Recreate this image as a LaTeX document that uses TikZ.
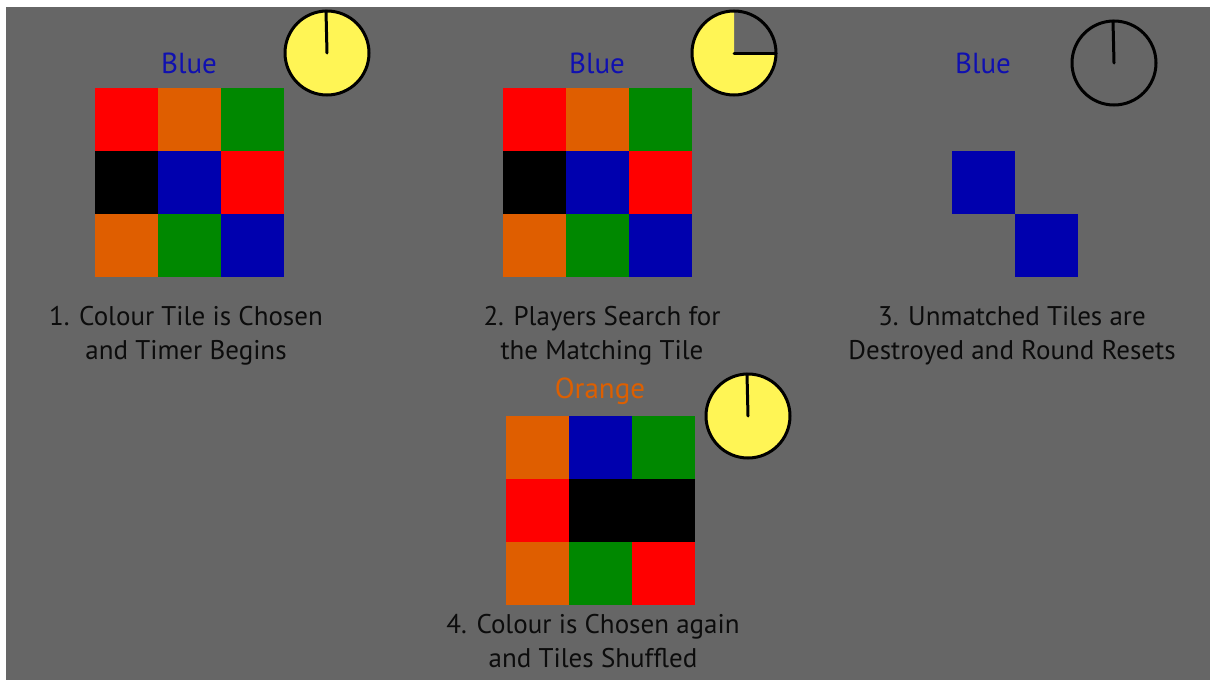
\documentclass[tikz,border=0pt]{standalone}
\usepackage{fontspec}
\setmainfont{PT Sans}
\definecolor{bg}{RGB}{102,102,102}
\definecolor{tred}{RGB}{255,0,0}
\definecolor{torange}{RGB}{223,94,0}
\definecolor{tgreen}{RGB}{0,136,0}
\definecolor{tblue}{RGB}{0,0,174}
\definecolor{clk}{RGB}{255,245,85}
\definecolor{captxt}{RGB}{12,12,12}
\definecolor{lblblue}{RGB}{16,16,176}
\definecolor{lblorange}{RGB}{221,95,0}
\begin{document}
\begin{tikzpicture}[x=1pt,y=-1pt,
  tile/.style={minimum size=63pt,inner sep=0pt,outer sep=0pt,anchor=north west,draw=none},
  caption/.style={align=center,text=captxt,font=\fontsize{27}{34}\selectfont,inner sep=0pt},
  label/.style={font=\fontsize{29}{32}\selectfont,inner sep=0pt},
  clockrim/.style={line width=3pt,draw=black},
  hand/.style={line width=3pt,draw=black,line cap=round}]
\useasboundingbox (0,0) rectangle (1210,680);
\fill[bg] (6,7) rectangle (1210,680);

% Grid 1
\node[tile,fill=tred]    (a11) at (95,88)  {};
\node[tile,fill=torange] (a12) at (158,88) {};
\node[tile,fill=tgreen]  (a13) at (221,88) {};
\node[tile,fill=black]   (a21) at (95,151)  {};
\node[tile,fill=tblue]   (a22) at (158,151) {};
\node[tile,fill=tred]    (a23) at (221,151) {};
\node[tile,fill=torange] (a31) at (95,214)  {};
\node[tile,fill=tgreen]  (a32) at (158,214) {};
\node[tile,fill=tblue]   (a33) at (221,214) {};

% Grid 2
\node[tile,fill=tred]    (b11) at (503,88)  {};
\node[tile,fill=torange] (b12) at (566,88) {};
\node[tile,fill=tgreen]  (b13) at (629,88) {};
\node[tile,fill=black]   (b21) at (503,151)  {};
\node[tile,fill=tblue]   (b22) at (566,151) {};
\node[tile,fill=tred]    (b23) at (629,151) {};
\node[tile,fill=torange] (b31) at (503,214)  {};
\node[tile,fill=tgreen]  (b32) at (566,214) {};
\node[tile,fill=tblue]   (b33) at (629,214) {};

% Grid 3
\node[tile,fill=tblue]   (c21) at (952,151)  {};
\node[tile,fill=tblue]   (c32) at (1015,214) {};

% Grid 4
\node[tile,fill=torange] (d11) at (506,416) {};
\node[tile,fill=tblue]   (d12) at (569,416) {};
\node[tile,fill=tgreen]  (d13) at (632,416) {};
\node[tile,fill=tred]    (d21) at (506,479) {};
\node[tile,fill=black]   (d22) at (569,479) {};
\node[tile,fill=black]   (d23) at (632,479) {};
\node[tile,fill=torange] (d31) at (506,542) {};
\node[tile,fill=tgreen]  (d32) at (569,542) {};
\node[tile,fill=tred]    (d33) at (632,542) {};

% Clocks
\coordinate (k1) at (327,53);
\fill[clk] (k1) circle[radius=42];
\draw[clockrim] (k1) circle[radius=42];
\draw[hand] (k1) -- (326,11);

\coordinate (k2) at (734,53);
\fill[clk] (k2) -- ++(42,0) arc[start angle=0,end angle=270,radius=42] -- cycle;
\draw[clockrim] (k2) circle[radius=42];
\draw[hand] (k2) -- (776,53);

\coordinate (k3) at (1114,63);
\draw[clockrim] (k3) circle[radius=42];
\draw[hand] (k3) -- (1113,21);

\coordinate (k4) at (748,416);
\fill[clk] (k4) circle[radius=42];
\draw[clockrim] (k4) circle[radius=42];
\draw[hand] (k4) -- (747,374);

% Labels
\node[label,text=lblblue] (l1) at (189,63) {Blue};
\node[label,text=lblblue] (l2) at (597,63) {Blue};
\node[label,text=lblblue] (l3) at (983,63) {Blue};
\node[label,text=lblorange] (l4) at (600,391) {Orange};

% Captions
\node[caption] (t1) at (186,336) {1. Colour Tile is Chosen\\and Timer Begins};
\node[caption] (t2) at (602,336) {2. Players Search for\\the Matching Tile};
\node[caption] (t3) at (1012,336) {3. Unmatched Tiles are\\Destroyed and Round Resets};
\node[caption] (t4) at (593,641) {4. Colour is Chosen again\\and Tiles Shuffled};
\end{tikzpicture}
\end{document}
